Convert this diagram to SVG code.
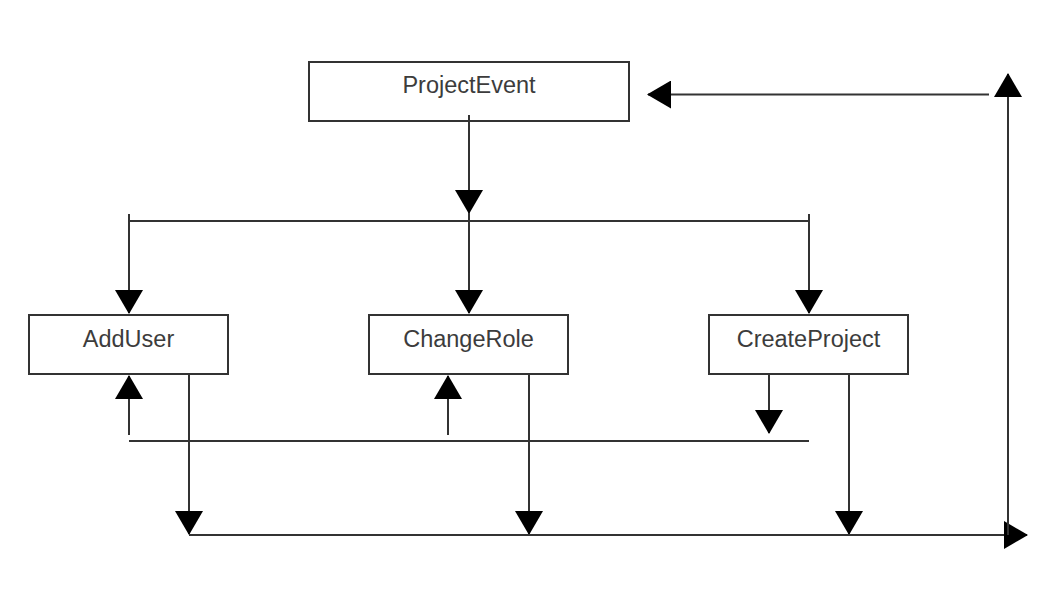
<svg xmlns="http://www.w3.org/2000/svg" width="1051" height="589" viewBox="0 0 1051 589">
  <style>
    .box { fill: #ffffff; stroke: #333333; stroke-width: 2; }
    .lbl { font-family: "Liberation Sans", Arial, Helvetica, sans-serif; font-size: 23.5px; fill: #3c3c3c; text-anchor: middle; }
    .ln { stroke: #333333; stroke-width: 2; fill: none; }
    .arr { marker-end: url(#ah); }
  </style>
  <defs>
    <marker id="ah" markerUnits="userSpaceOnUse" viewBox="0 0 24 28" markerWidth="24" markerHeight="28" refX="23" refY="14" orient="auto">
      <path d="M0,0 L24,14 L0,28 Z" fill="#000000"/>
    </marker>
  </defs>
  <rect width="1051" height="589" fill="#ffffff"/>

  <g id="ProjectEvent">
    <rect class="box" x="309" y="62" width="320" height="59"/>
    <text class="lbl" x="469" y="93">ProjectEvent</text>
  </g>
  <g id="AddUser">
    <rect class="box" x="29" y="315" width="199" height="59"/>
    <text class="lbl" x="128.5" y="347">AddUser</text>
  </g>
  <g id="ChangeRole">
    <rect class="box" x="369" y="315" width="199" height="59"/>
    <text class="lbl" x="468.5" y="347">ChangeRole</text>
  </g>
  <g id="CreateProject">
    <rect class="box" x="709" y="315" width="199" height="59"/>
    <text class="lbl" x="808.5" y="347">CreateProject</text>
  </g>

  <g id="connectors">
    <!-- ProjectEvent to bus -->
    <line class="ln arr" x1="469" y1="115" x2="469" y2="213"/>
    <line class="ln" x1="129" y1="221" x2="809" y2="221"/>
    <line class="ln arr" x1="129" y1="214" x2="129" y2="313"/>
    <line class="ln arr" x1="469" y1="213" x2="469" y2="313"/>
    <line class="ln arr" x1="809" y1="214" x2="809" y2="313"/>
    <!-- middle bus -->
    <line class="ln" x1="129" y1="441" x2="809" y2="441"/>
    <line class="ln arr" x1="129" y1="435" x2="129" y2="376"/>
    <line class="ln arr" x1="448" y1="435" x2="448" y2="376"/>
    <line class="ln arr" x1="769" y1="375" x2="769" y2="433"/>
    <!-- bottom bus -->
    <line class="ln arr" x1="189" y1="375" x2="189" y2="534"/>
    <line class="ln arr" x1="529" y1="375" x2="529" y2="534"/>
    <line class="ln arr" x1="849" y1="375" x2="849" y2="534"/>
    <line class="ln arr" x1="189" y1="535" x2="1027" y2="535"/>
    <line class="ln arr" x1="1008" y1="535" x2="1008" y2="74"/>
    <line class="ln arr" x1="989" y1="94.5" x2="648" y2="94.5"/>
  </g>
</svg>
